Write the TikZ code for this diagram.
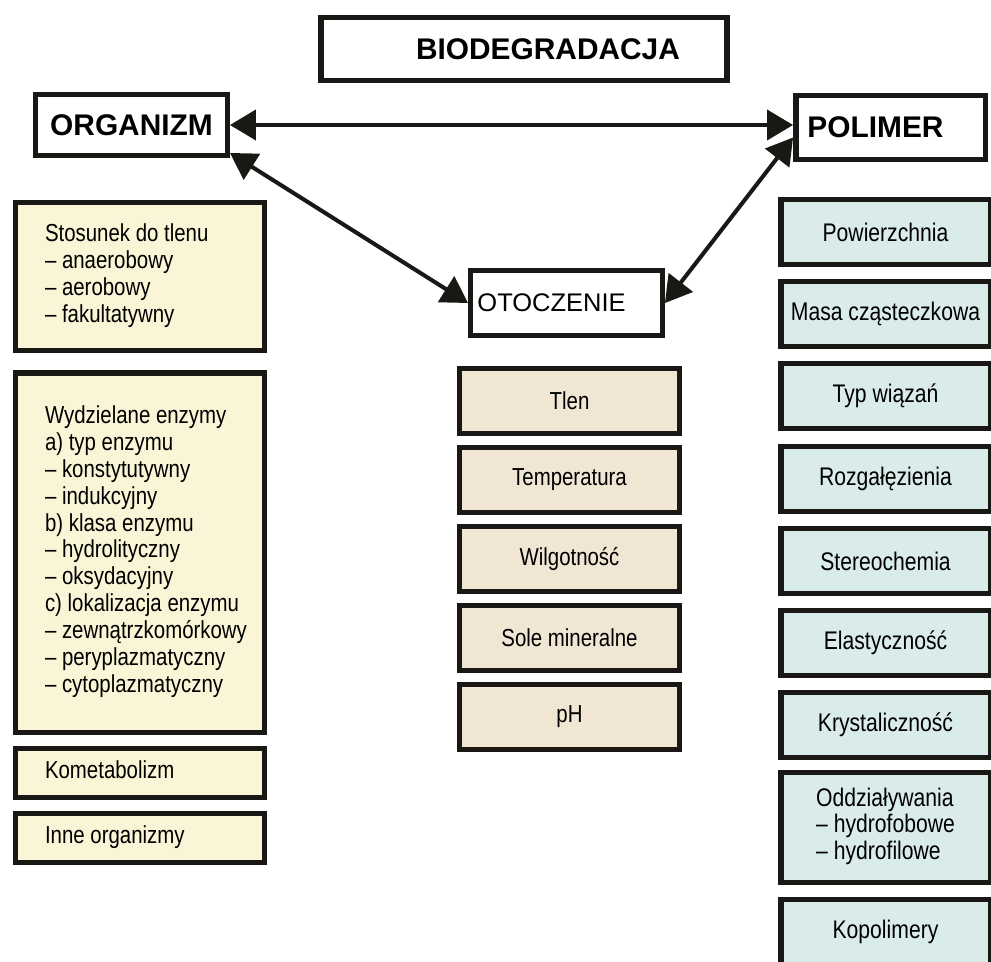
\documentclass[tikz,border=0pt]{standalone}
\usepackage{fontspec}
\setmainfont{Liberation Sans}
\newfontfamily\narrowsans[FakeStretch=0.83]{Liberation Sans}
\usetikzlibrary{arrows.meta}
\definecolor{orgfill}{RGB}{250,245,214}
\definecolor{otofill}{RGB}{240,230,211}
\definecolor{polfill}{RGB}{218,236,234}
\definecolor{edge}{RGB}{26,24,20}
\newcommand{\lines}[1]{\spaceskip=0pt\xspaceskip=0pt\begin{tabular}{@{}l@{}}#1\end{tabular}}

\begin{document}
\begin{tikzpicture}[x=0.02cm,y=-0.02cm]
        \tikzstyle{every node} = [rectangle, draw=edge, line width=3.1pt, inner sep=0pt]
        \tikzstyle{head} = [fill=white, font=\bfseries\fontsize{17}{20}\selectfont]
        \tikzstyle{orgbox} = [fill=orgfill, text width=3.8cm, inner xsep=0.585cm, align=left, font=\narrowsans\fontsize{14}{15.3}\selectfont]
        \tikzstyle{otobox} = [fill=otofill, minimum width=4.39cm, minimum height=1.29cm, font=\narrowsans\fontsize{14}{15.3}\selectfont]
        \tikzstyle{polbox} = [fill=polfill, minimum width=4.19cm, minimum height=1.29cm, font=\narrowsans\fontsize{14.5}{15.3}\selectfont]
        \tikzstyle{link} = [draw=edge, line width=2.3pt, {Triangle[length=0.52cm,width=0.6cm]}-{Triangle[length=0.52cm,width=0.6cm]}]
        \useasboundingbox (0,0) rectangle (991,961);
        \fill[white] (0,0) rectangle (991,961);

        \node[head, minimum width=8.13cm, minimum height=1.25cm] (bio) at (524,49) {\hspace{0.96cm}BIODEGRADACJA};
        \node[head, minimum width=3.83cm, minimum height=1.21cm] (org) at (131.5,125) {ORGANIZM};
        \node[head, minimum width=3.79cm, minimum height=1.27cm] (pol) at (890.5,127.5) {POLIMER\kern0.6cm};
        \node[head, font=\fontsize{14.5}{17}\selectfont, minimum width=3.83cm, minimum height=1.29cm] (oto) at (566.5,303) {OTOCZENIE\kern0.6cm};

        \node[orgbox, minimum height=2.95cm] (o1) at (140,276.5) {\lines{Stosunek do tlenu\\– anaerobowy\\– aerobowy\\– fakultatywny}};
        \node[orgbox, minimum height=7.19cm] (o2) at (140,552.5) {\lines{Wydzielane enzymy\\a) typ enzymu\\– konstytutywny\\– indukcyjny\\b) klasa enzymu\\– hydrolityczny\\– oksydacyjny\\c) lokalizacja enzymu\\– zewnątrzkomórkowy\\– peryplazmatyczny\\– cytoplazmatyczny}};
        \node[orgbox, minimum height=0.97cm] (o3) at (140,773) {\lines{Kometabolizm}};
        \node[orgbox, minimum height=0.97cm] (o4) at (140,838) {\lines{Inne organizmy}};

        \node[otobox] (e1) at (569.5,401) {Tlen};
        \node[otobox] (e2) at (569.5,480) {Temperatura};
        \node[otobox] (e3) at (569.5,559) {Wilgotność};
        \node[otobox] (e4) at (569.5,638) {Sole mineralne};
        \node[otobox] (e5) at (569.5,717) {pH};

        \node[polbox] (p1) at (885.5,232) {Powierzchnia};
        \node[polbox] (p2) at (885.5,314) {Masa cząsteczkowa};
        \node[polbox] (p3) at (885.5,396) {Typ wiązań};
        \node[polbox] (p4) at (885.5,479) {Rozgałęzienia};
        \node[polbox] (p5) at (885.5,561) {Stereochemia};
        \node[polbox] (p6) at (885.5,643) {Elastyczność};
        \node[polbox] (p7) at (885.5,725) {Krystaliczność};
        \node[polbox, minimum height=2.19cm] (p8) at (885.5,827.5) {\lines{Oddziaływania\\– hydrofobowe\\– hydrofilowe}};
        \node[polbox] (p9) at (885.5,932) {Kopolimery};

        \draw[link] (org.east) -- (org.east -| pol.west);
        \draw[link] ([yshift=0.1cm]org.south east) -- (oto.west);
        \draw[link] ([yshift=-0.2cm]pol.west) -- (oto.east);
\end{tikzpicture}
\end{document}
